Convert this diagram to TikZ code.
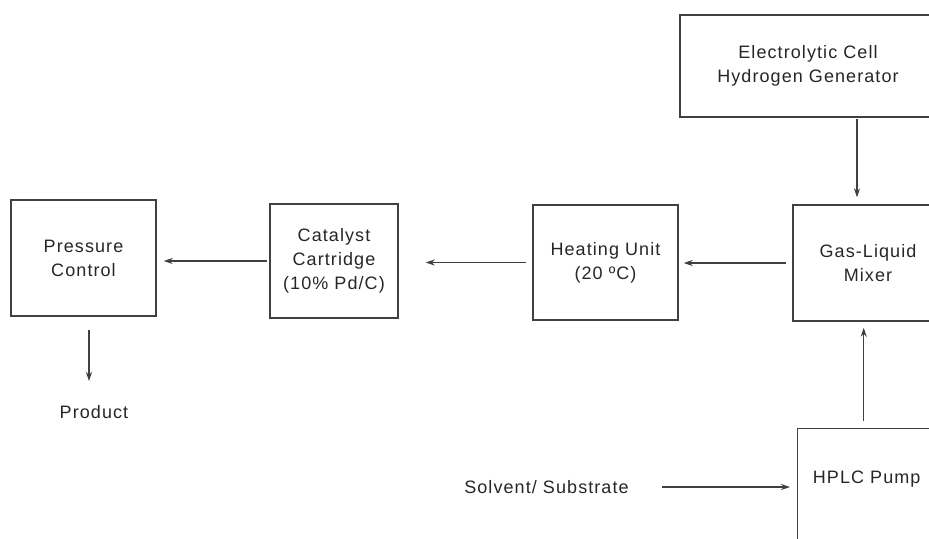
\documentclass[tikz,border=0pt]{standalone}
\usepackage{fontspec}
\setmainfont{Liberation Sans}[LetterSpace=6]
\usetikzlibrary{arrows.meta}
\definecolor{linegray}{HTML}{404040}
\definecolor{textgray}{HTML}{262626}
\begin{document}
\begin{tikzpicture}[
  x=0.5pt, y=-0.5pt,
  unit/.style={draw=linegray, line width=0.7pt, align=center, inner sep=0pt, text=textgray, font=\fontsize{9}{12}\selectfont},
  tag/.style={inner sep=0pt, text=textgray, font=\fontsize{9}{12}\selectfont},
  flow/.style={-{Stealth[length=4.5pt,width=3pt]}, line width=0.6pt, draw=linegray},
]
  \useasboundingbox (0,0) rectangle (929,538);
  \clip (0,0) rectangle (929,538);

  \node[unit, minimum width=72.5pt, minimum height=58pt] (pressure) at (83.5,258) {Pressure\\Control};
  \node[unit, minimum width=64pt, minimum height=57pt] (catalyst) at (334,261) {Catalyst\\Cartridge\\(10\% Pd/C)};
  \node[unit, minimum width=72.5pt, minimum height=57.5pt] (heating) at (605.5,262.5) {Heating Unit\\(20 ºC)};
  \node[unit, minimum width=75pt, minimum height=58pt] (mixer) at (868,263) {Gas-Liquid\\Mixer};
  \node[unit, minimum width=128pt, minimum height=51pt] (gen) at (808,66) {Electrolytic Cell\\Hydrogen Generator};
  \node[unit, anchor=north west, minimum width=69pt, text height=27.5pt, text depth=45pt] (pump) at (797,428) {HPLC Pump};
  \node[tag] (solvent) at (546.5,487) {Solvent/ Substrate};
  \node[tag] (product) at (94,412) {Product};

  \draw[flow, shorten <=0.5pt, shorten >=3.5pt] ([xshift=-5.5pt]mixer.north |- gen.south) -- ([xshift=-5.5pt]mixer.north);
  \draw[flow, shorten <=3pt, shorten >=2.5pt] (mixer.west) -- (mixer.west -| heating.east);
  \draw[flow, shorten <=3pt, shorten >=13.5pt] (heating.west) -- (heating.west -| catalyst.east);
  \draw[flow, shorten <=1pt, shorten >=3.5pt] (catalyst.west) -- (catalyst.west -| pressure.east);
  \draw[flow, shorten <=6.5pt, shorten >=12pt] ([xshift=2.75pt]pressure.south) -- ([xshift=2.75pt]pressure.south |- product.north);
  \draw[flow, shorten <=3.5pt, shorten >=3pt] ([xshift=-1.5pt]pump.north) -- ([xshift=-1.5pt]pump.north |- mixer.south);
  \draw[flow, shorten <=16.5pt, shorten >=3.5pt] (solvent.east) -- (solvent.east -| pump.west);
\end{tikzpicture}
\end{document}
